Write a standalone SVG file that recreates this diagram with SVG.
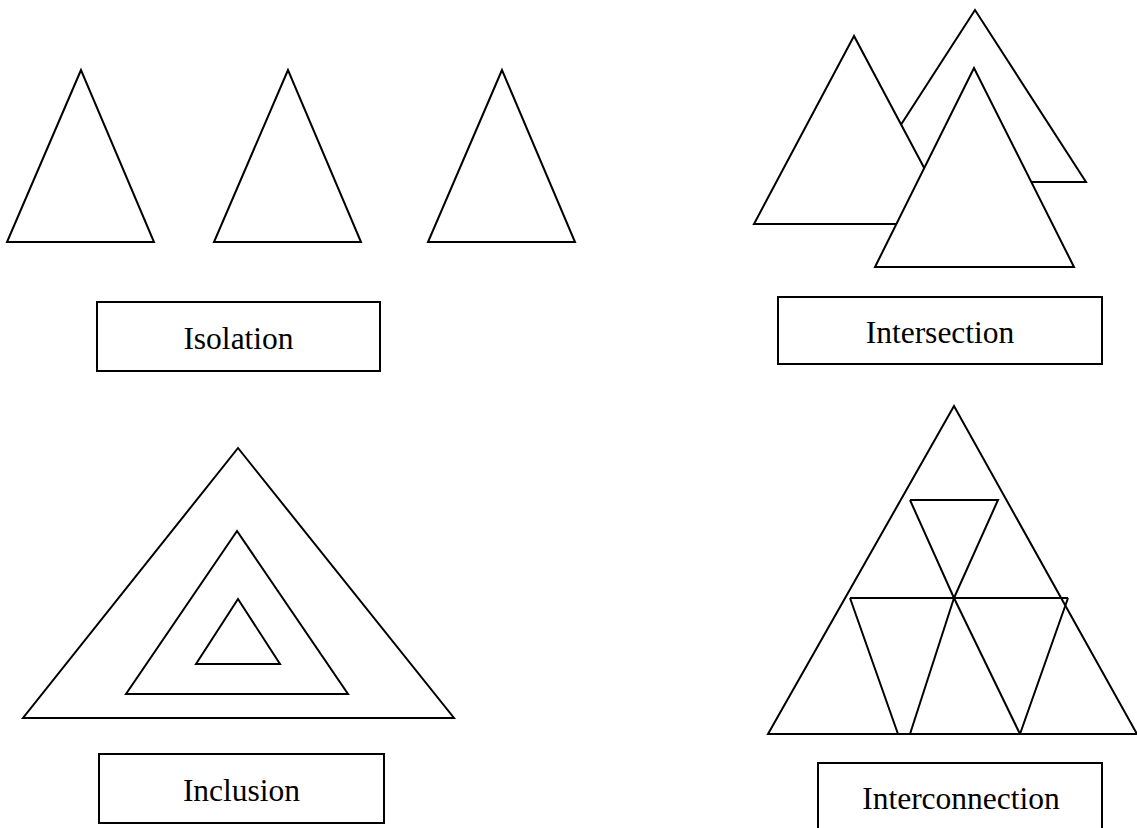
<svg xmlns="http://www.w3.org/2000/svg" width="1137" height="828" viewBox="0 0 1137 828">
<style>
.s{fill:#fff;stroke:#000;stroke-width:2;stroke-linejoin:miter}
.l{fill:none;stroke:#000;stroke-width:2}
.t{font-family:"Liberation Serif","Times New Roman",serif;font-size:31.5px;fill:#000;text-anchor:middle}
</style>
<rect width="1137" height="828" fill="#fff"/>
<g id="isolation">
<polygon class="s" points="81,70 7,242 154,242"/>
<polygon class="s" points="288,70 214,242 361,242"/>
<polygon class="s" points="502,70 428,242 575,242"/>
</g>
<g id="isolation-label">
<rect class="s" x="97" y="302" width="283" height="69"/>
<text class="t" x="238.5" y="349">Isolation</text>
</g>
<g id="intersection">
<polygon class="s" points="975,10 864,182 1086,182"/>
<polygon class="s" points="854,36 754,224 954,224"/>
<polygon class="s" points="974,68 875,267 1074,267"/>
</g>
<g id="intersection-label">
<rect class="s" x="778" y="297" width="324" height="67"/>
<text class="t" x="940" y="343">Intersection</text>
</g>
<g id="inclusion">
<polygon class="s" points="238,448 23,718 454,718"/>
<polygon class="s" points="237,531 126,694 348,694"/>
<polygon class="s" points="238,599 196,664 280,664"/>
</g>
<g id="inclusion-label">
<rect class="s" x="99" y="754" width="285" height="69"/>
<text class="t" x="241.5" y="801">Inclusion</text>
</g>
<g id="interconnection">
<polygon class="s" points="954,406 768,734 1137,734"/>
<g id="connectors">
<polyline class="l" points="910,500 998,500 954,598 910,500"/>
<line class="l" x1="850" y1="598" x2="1068" y2="598"/>
<line class="l" x1="850" y1="598" x2="898" y2="734"/>
<line class="l" x1="954" y1="598" x2="910" y2="734"/>
<line class="l" x1="954" y1="598" x2="1020" y2="734"/>
<line class="l" x1="1068" y1="598" x2="1020" y2="734"/>
</g>
</g>
<g id="interconnection-label">
<rect class="s" x="818" y="763" width="284" height="80"/>
<text class="t" x="961" y="809">Interconnection</text>
</g>
</svg>
